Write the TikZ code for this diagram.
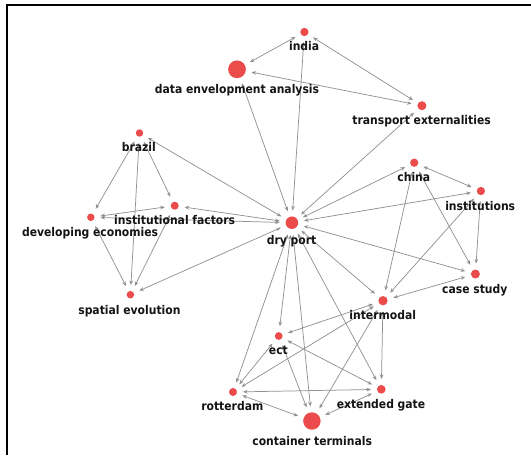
\documentclass[tikz,border=0pt]{standalone}
\usepackage{fontspec}
\setmainfont{DejaVu Sans Condensed}
\usetikzlibrary{arrows.meta}

\definecolor{nodered}{RGB}{235,75,75}
\definecolor{linkgray}{RGB}{145,145,145}
\definecolor{textdark}{RGB}{20,20,20}

\tikzset{
  dot/.style={circle, fill=nodered, draw=none, inner sep=0pt, minimum size=#1, outer sep=4.5pt},
  kw/.style={anchor=base, inner sep=0.75pt, text=textdark, font=\fontsize{9}{11}\selectfont\bfseries},
  link/.style={draw=linkgray, line width=0.55pt, {Stealth[length=3.4pt,width=2.8pt]}-{Stealth[length=3.4pt,width=2.8pt]}}
}

\begin{document}
\begin{tikzpicture}[x=0.75pt,y=0.75pt,yscale=-1,xscale=1]
\useasboundingbox (0,0) rectangle (531,455);

%Frame
\draw [line width=1.5pt]  (7,455) -- (7,5) -- (531,5) ;

%Shape: Circle
\node [dot=6.2pt]  (india) at (304.4,32) {};
\node [dot=13.3pt] (dea) at (237,69.3) {};
\node [dot=6.75pt] (transext) at (421.9,105.7) {};
\node [dot=5.6pt]  (brazil) at (139.5,133) {};
\node [dot=6.2pt]  (china) at (414.2,162.7) {};
\node [dot=6.2pt]  (instit) at (480.9,191) {};
\node [dot=6pt]    (instfact) at (174.7,205.7) {};
\node [dot=5.6pt]  (develop) at (90.8,217.3) {};
\node [dot=9.4pt]  (dryport) at (291.9,222.7) {};
\node [dot=6.75pt] (casestudy) at (475.4,274) {};
\node [dot=5.6pt]  (spatial) at (130.4,294.7) {};
\node [dot=7pt]    (intermodal) at (383,300.7) {};
\node [dot=5.8pt]  (ect) at (278.7,336) {};
\node [dot=6.5pt]  (extgate) at (381.3,389.3) {};
\node [dot=6pt]    (rotterdam) at (233,392) {};
\node [dot=13.1pt] (contterm) at (311.9,421) {};

%Straight Lines
\draw [link] (india) -- (dea) ;
\draw [link] (india) -- (transext) ;
\draw [link] (india) -- (dryport) ;
\draw [link] (dea) -- (transext) ;
\draw [link] (dea) -- (dryport) ;
\draw [link] (transext) -- (dryport) ;
%Straight Lines
\draw [link] (brazil) -- (dryport) ;
\draw [link] (brazil) -- (develop) ;
\draw [link] (brazil) -- (instfact) ;
\draw [link] (brazil) -- (spatial) ;
\draw [link] (develop) -- (instfact) ;
\draw [link] (develop) -- (dryport) ;
\draw [link] (develop) -- (spatial) ;
\draw [link] (instfact) -- (dryport) ;
\draw [link] (instfact) -- (spatial) ;
\draw [link] (spatial) -- (dryport) ;
%Straight Lines
\draw [link] (china) -- (dryport) ;
\draw [link] (china) -- (instit) ;
\draw [link] (china) -- (intermodal) ;
\draw [link] (china) -- (casestudy) ;
\draw [link] (instit) -- (dryport) ;
\draw [link] (instit) -- (intermodal) ;
\draw [link] (instit) -- (casestudy) ;
\draw [link] (dryport) -- (casestudy) ;
\draw [link] (dryport) -- (intermodal) ;
\draw [link] (casestudy) -- (intermodal) ;
%Straight Lines
\draw [link] (dryport) -- (ect) ;
\draw [link] (dryport) -- (rotterdam) ;
\draw [link] (dryport) -- (contterm) ;
\draw [link] (dryport) -- (extgate) ;
\draw [link] (intermodal) -- (ect) ;
\draw [link] (intermodal) -- (rotterdam) ;
\draw [link] (intermodal) -- (extgate) ;
\draw [link] (intermodal) -- (contterm) ;
\draw [link] (ect) -- (rotterdam) ;
\draw [link] (ect) -- (extgate) ;
\draw [link] (ect) -- (contterm) ;
\draw [link] (rotterdam) -- (extgate) ;
\draw [link] (rotterdam) -- (contterm) ;
\draw [link] (extgate) -- (contterm) ;

% Text Node
\node [kw] (t-india) at (304.1,50) {india};
\node [kw] (t-dea) at (237,93.3) {data envelopment analysis};
\node [kw] (t-transext) at (421.6,124.7) {transport externalities};
\node [kw] (t-brazil) at (138.8,151.3) {brazil};
\node [kw] (t-china) at (413.8,181.3) {china};
\node [kw] (t-instit) at (480.2,210) {institutions};
\node [kw] (t-instfact) at (174.7,224.7) {institutional factors};
\node [kw] (t-develop) at (90.1,236.3) {developing economies};
\node [kw] (t-dryport) at (291.6,244) {dry port};
\node [kw] (t-casestudy) at (474.8,293.7) {case study};
\node [kw] (t-spatial) at (129.4,314) {spatial evolution};
\node [kw] (t-intermodal) at (382.7,319.3) {intermodal};
\node [kw] (t-ect) at (278.4,354.7) {ect};
\node [kw] (t-extgate) at (381,408.3) {extended gate};
\node [kw] (t-rotterdam) at (232.3,410.3) {rotterdam};
\node [kw] (t-contterm) at (312.2,445) {container terminals};

\end{tikzpicture}
\end{document}
